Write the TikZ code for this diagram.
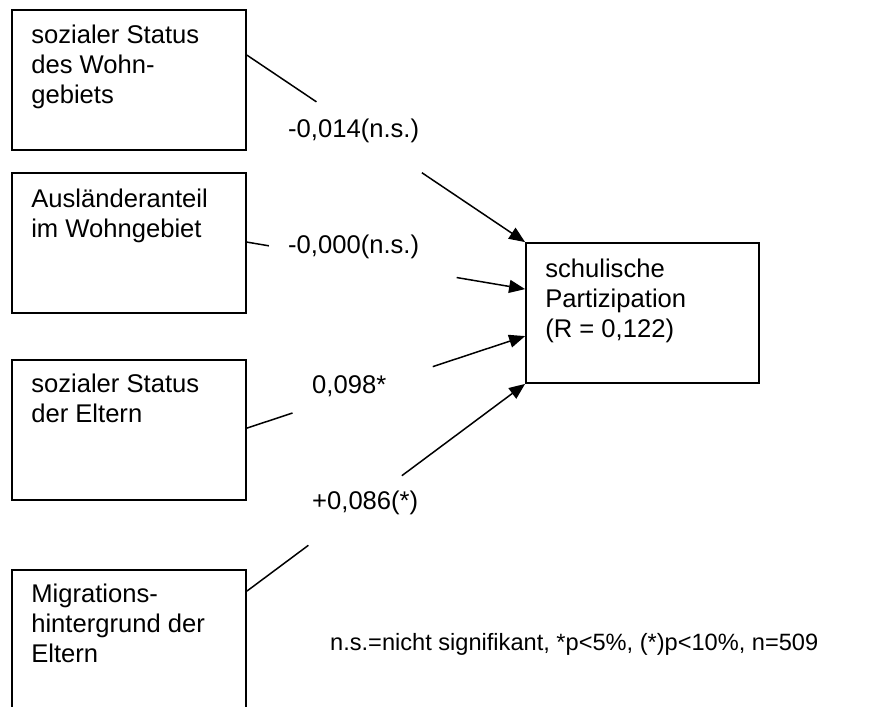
\documentclass[tikz,border=0pt]{standalone}
\usepackage{fontspec}
\setmainfont{Liberation Sans}
\usetikzlibrary{arrows.meta,calc}
\begin{document}
\begin{tikzpicture}[x=1pt,y=-1pt,
  box/.style={draw, line width=1.8pt, rectangle, inner sep=0pt},
  txt/.style={font=\fontsize{25.6}{30}\selectfont, align=left, inner sep=0pt, anchor=north west},
  lbl/.style={font=\fontsize{25.6}{30}\selectfont, inner sep=0pt, anchor=base west},
  notestyle/.style={font=\fontsize{23.6}{28}\selectfont, inner sep=0pt, anchor=base west},
  conn/.style={line width=1.5pt},
  arr/.style={conn, -{Triangle[length=16pt,width=13pt]}}]
\useasboundingbox (0,0) rectangle (874,706);

% boxes
\node[box, minimum width=234pt, minimum height=140pt] (b1) at (129,80) {};
\node[box, minimum width=234pt, minimum height=140pt] (b2) at (129,243) {};
\node[box, minimum width=234pt, minimum height=140pt] (b3) at (129,430) {};
\node[box, minimum width=234pt, minimum height=180pt] (b4) at (129,660) {};
\node[box, minimum width=233pt, minimum height=140pt] (t) at (642.5,313) {};

% box texts
\node[txt] (b1t) at ([shift={(20pt,-13pt)}]b1.north west) {\strut sozialer Status\\des Wohn-\\gebiets};
\node[txt] (b2t) at ([shift={(20pt,-14pt)}]b2.north west) {\strut Ausländeranteil\\im Wohngebiet};
\node[txt] (b3t) at ([shift={(20pt,-12pt)}]b3.north west) {\strut sozialer Status\\der Eltern};
\node[txt] (b4t) at ([shift={(20pt,-12pt)}]b4.north west) {\strut Migrations-\\hintergrund der\\Eltern};
\node[txt] (tt) at ([shift={(20pt,-14pt)}]t.north west) {\strut schulische\\Partizipation\\(R = 0,122)};

% connector end points
\coordinate (s1) at ([yshift=-46pt]b1.north east);
\coordinate (s2) at ([yshift=-70pt]b2.north east);
\coordinate (s3) at ([yshift=-69pt]b3.north east);
\coordinate (s4) at ([yshift=-22pt]b4.north east);
\coordinate (e1) at (t.north west);
\coordinate (e2) at ([yshift=-47pt]t.north west);
\coordinate (e3) at ([yshift=-94pt]t.north west);
\coordinate (e4) at (t.south west);

% gaps for the labels
\path (s1) -- (e1) coordinate[pos=0.25] (g1a) coordinate[pos=0.629] (g1b);
\path (s2) -- (e2) coordinate[pos=0.079] (g2a) coordinate[pos=0.754] (g2b);
\path (s3) -- (e3) coordinate[pos=0.164] (g3a) coordinate[pos=0.668] (g3b);
\path (s4) -- (e4) coordinate[pos=0.221] (g4a) coordinate[pos=0.557] (g4b);

% connectors
\draw[conn] (s1) -- (g1a); \draw[arr] (g1b) -- (e1);
\draw[conn] (s2) -- (g2a); \draw[arr] (g2b) -- (e2);
\draw[conn] (s3) -- (g3a); \draw[arr] (g3b) -- (e3);
\draw[conn] (s4) -- (g4a); \draw[arr] (g4b) -- (e4);

% labels
\node[lbl] (l1) at (288,137) {-0,014(n.s.)};
\node[lbl] (l2) at (288,253) {-0,000(n.s.)};
\node[lbl] (l3) at (312,393) {0,098*};
\node[lbl] (l4) at (312,509) {+0,086(*)};
\node[notestyle] (note) at (330,650) {n.s.=nicht signifikant, *p<5\%, (*)p<10\%, n=509};
\end{tikzpicture}
\end{document}
